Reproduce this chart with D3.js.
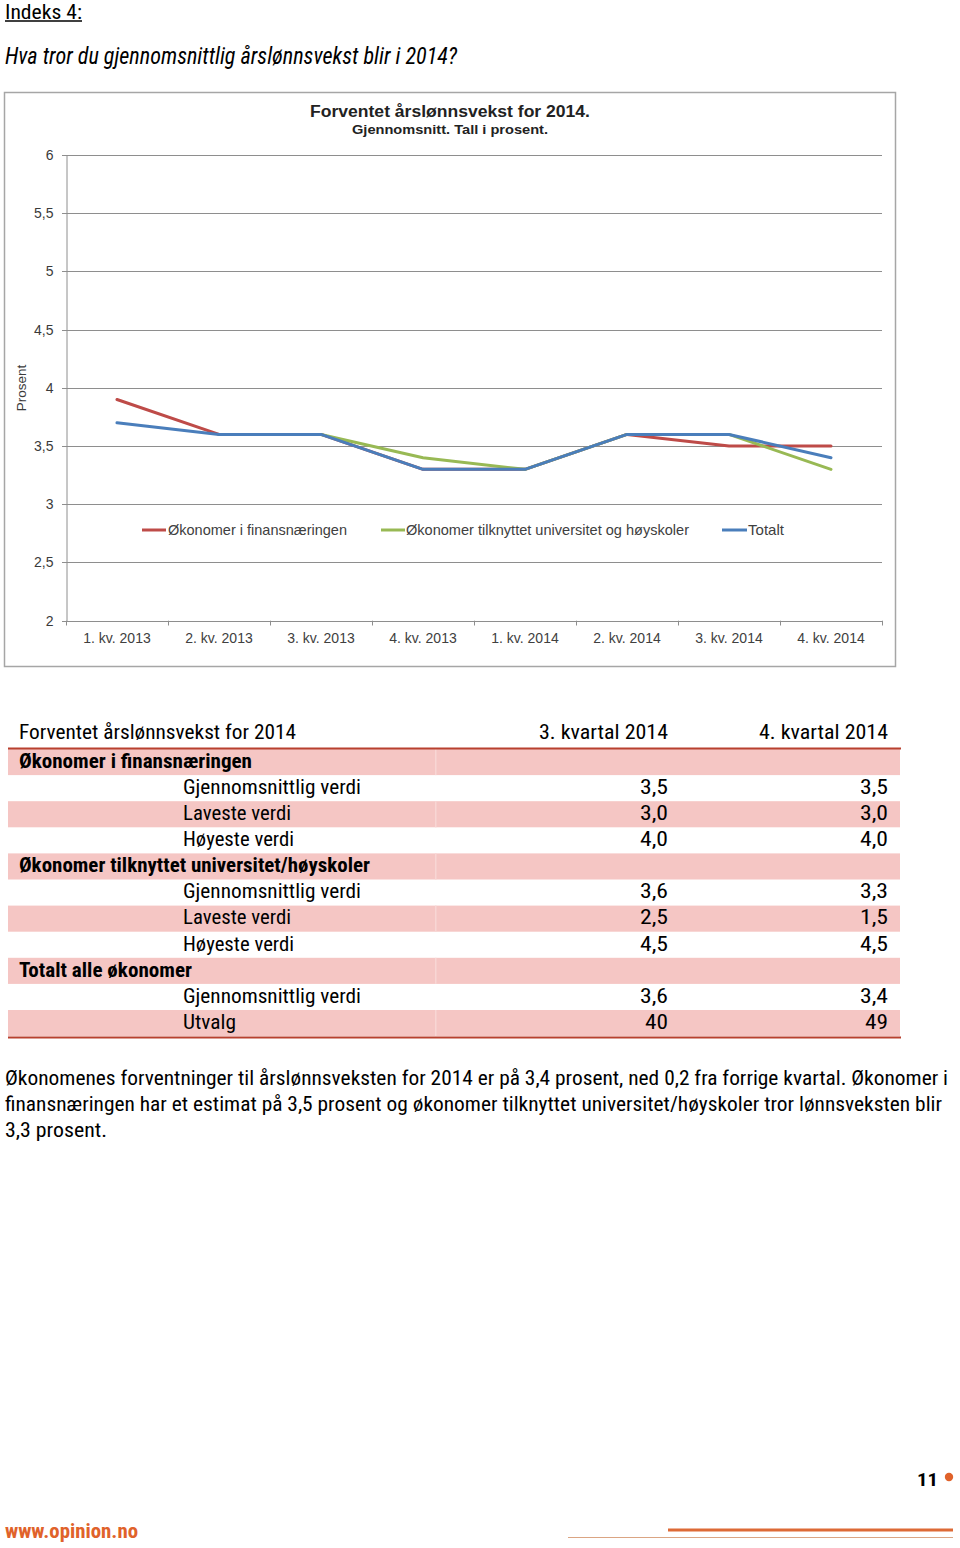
<!DOCTYPE html>
<html>
<head>
<meta charset="utf-8">
<script src="https://cdn.jsdelivr.net/npm/d3@7"></script>
<style>
  html, body { margin: 0; padding: 0; background: #fff; }
  svg { display: block; }
</style>
</head>
<body>
<svg id="page" width="960" height="1548"></svg>
<script>
// ---------- DATA ----------
const categories = ["1. kv. 2013", "2. kv. 2013", "3. kv. 2013", "4. kv. 2013",
                    "1. kv. 2014", "2. kv. 2014", "3. kv. 2014", "4. kv. 2014"];
const finans  = [3.9, 3.6, 3.6, 3.3, 3.3, 3.6, 3.5, 3.5];
const univ    = [null, 3.6, 3.6, 3.4, 3.3, 3.6, 3.6, 3.3];
const totalt  = [3.7, 3.6, 3.6, 3.3, 3.3, 3.6, 3.6, 3.4];
const yTicks  = [2, 2.5, 3, 3.5, 4, 4.5, 5, 5.5, 6];
const seriesNames = ["Økonomer i finansnæringen", "Økonomer tilknyttet universitet og høyskoler", "Totalt"];

const tableHeader = ["Forventet årslønnsvekst for 2014", "3. kvartal 2014", "4. kvartal 2014"];
const tableLabels = ["Økonomer i finansnæringen", "Gjennomsnittlig verdi", "Laveste verdi", "Høyeste verdi",
                     "Økonomer tilknyttet universitet/høyskoler", "Gjennomsnittlig verdi", "Laveste verdi", "Høyeste verdi",
                     "Totalt alle økonomer", "Gjennomsnittlig verdi", "Utvalg"];
const tableIsGroup = [true, false, false, false, true, false, false, false, true, false, false];
const tableQ3 = ["", "3,5", "3,0", "4,0", "", "3,6", "2,5", "4,5", "", "3,6", "40"];
const tableQ4 = ["", "3,5", "3,0", "4,0", "", "3,3", "1,5", "4,5", "", "3,4", "49"];

const paragraph = [
  "Økonomenes forventninger til årslønnsveksten for 2014 er på 3,4 prosent, ned 0,2 fra forrige kvartal. Økonomer i",
  "finansnæringen har et estimat på 3,5 prosent og økonomer tilknyttet universitet/høyskoler tror lønnsveksten blir",
  "3,3 prosent."
];

// ---------- STYLE ----------
const NARROW = "'Liberation Sans Narrow','Roboto Condensed','DejaVu Sans Condensed',sans-serif";
const ARIAL = "'Liberation Sans', Arial, sans-serif";
const colors = ["#BE4B48", "#98B954", "#4A7EBB"];

const svg = d3.select("#page");

function txt(g, s, x, y, o) {
  o = o || {};
  const t = g.append("text").attr("x", x).attr("y", y).text(s)
    .attr("font-family", o.family || NARROW)
    .attr("font-size", o.size || 20)
    .attr("font-weight", o.weight || "normal")
    .attr("fill", o.fill || "#000");
  if (o.style) t.attr("font-style", o.style);
  if (o.len) t.attr("textLength", o.len).attr("lengthAdjust", "spacingAndGlyphs");
  if (o.anchor) t.attr("text-anchor", o.anchor);
  return t;
}

// ---------- PAGE HEADER ----------
txt(svg, "Indeks 4:", 5, 18.5, {size: 21, len: 77});
svg.append("line").attr("x1", 5).attr("x2", 82).attr("y1", 21).attr("y2", 21)
  .attr("stroke", "#000").attr("stroke-width", 1.5);
txt(svg, "Hva tror du gjennomsnittlig årslønnsvekst blir i 2014?", 5, 64, {size: 24, style: "italic", len: 452});

// ---------- CHART ----------
svg.append("rect").attr("x", 4.5).attr("y", 92.5).attr("width", 891).attr("height", 574)
  .attr("fill", "#fff").attr("stroke", "#a6a6a6").attr("stroke-width", 1.5);

const x = d3.scaleBand().domain(categories).range([66, 882]);
const y = d3.scaleLinear().domain([2, 6]).range([620.7, 155]);

// title
txt(svg, "Forventet årslønnsvekst for 2014.", 450, 117, {family: ARIAL, size: 16, weight: "bold", anchor: "middle", len: 280, fill: "#222"});
txt(svg, "Gjennomsnitt. Tall i prosent.", 450, 134, {family: ARIAL, size: 13, weight: "bold", anchor: "middle", len: 196, fill: "#222"});

// gridlines
svg.append("g").selectAll("line").data(yTicks).join("line")
  .attr("x1", 62).attr("x2", 882)
  .attr("y1", d => Math.round(y(d)) + 0.5).attr("y2", d => Math.round(y(d)) + 0.5)
  .attr("stroke", "#8e8e8e").attr("stroke-width", 1);

// y axis
const yAxis = svg.append("g").attr("transform", "translate(66.5,0)")
  .call(d3.axisLeft(y).tickValues(yTicks).tickSize(0).tickPadding(13)
        .tickFormat(d => String(d).replace(".", ",")));
yAxis.select(".domain").attr("stroke", "#8e8e8e");
yAxis.selectAll("text").attr("font-family", ARIAL).attr("font-size", 14).attr("fill", "#3a3a3a");

// x axis
const xAxis = svg.append("g").attr("transform", "translate(0,620.7)")
  .call(d3.axisBottom(x).tickSize(0).tickPadding(12));
xAxis.select(".domain").remove();
xAxis.selectAll("text").attr("font-family", ARIAL).attr("font-size", 14).attr("fill", "#404040");
const bounds = categories.map(c => x(c)).concat([x.range()[1]]);
svg.append("g").selectAll("line").data(bounds).join("line")
  .attr("x1", d => Math.round(d) + 0.5).attr("x2", d => Math.round(d) + 0.5)
  .attr("y1", 620.7).attr("y2", 625.5)
  .attr("stroke", "#8e8e8e").attr("stroke-width", 1);

// y label
txt(svg, "Prosent", 0, 0, {family: ARIAL, size: 13.5, anchor: "middle", fill: "#3a3a3a"})
  .attr("transform", "translate(26,388) rotate(-90)");

// lines
const line = d3.line()
  .defined(d => d != null)
  .x((d, i) => x(categories[i]) + x.bandwidth() / 2)
  .y(d => y(d));
[finans, univ, totalt].forEach((s, i) => {
  svg.append("path").datum(s).attr("d", line)
    .attr("fill", "none").attr("stroke", colors[i]).attr("stroke-width", 3)
    .attr("stroke-linejoin", "round").attr("stroke-linecap", "round");
});

// legend
const legendItems = [
  {x1: 142, x2: 166, tx: 168, len: 179},
  {x1: 381, x2: 405, tx: 406, len: 283},
  {x1: 722, x2: 747, tx: 748, len: 36}
];
legendItems.forEach((L, i) => {
  svg.append("line").attr("x1", L.x1).attr("x2", L.x2).attr("y1", 530).attr("y2", 530)
    .attr("stroke", colors[i]).attr("stroke-width", 3);
  txt(svg, seriesNames[i], L.tx, 535, {family: ARIAL, size: 14.5, fill: "#404040", len: L.len});
});

// ---------- TABLE ----------
const T = svg.append("g");
const rowTop = 749, rowH = 26.1;
// header
txt(T, tableHeader[0], 19, 739, {size: 20, len: 277});
txt(T, tableHeader[1], 539, 739, {size: 20, len: 129});
txt(T, tableHeader[2], 759, 739, {size: 20, len: 129});

tableLabels.forEach((lab, i) => {
  const top = rowTop + i * rowH;
  if (i % 2 === 0) {
    T.append("rect").attr("x", 8).attr("y", top).attr("width", 892).attr("height", rowH)
      .attr("fill", "#f5c6c4");
    T.append("rect").attr("x", 435).attr("y", top).attr("width", 1.5).attr("height", rowH)
      .attr("fill", "#f8d6d4");
  }
});
T.append("line").attr("x1", 8).attr("x2", 901).attr("y1", 748.5).attr("y2", 748.5)
  .attr("stroke", "#b8402f").attr("stroke-width", 2);
T.append("line").attr("x1", 8).attr("x2", 901).attr("y1", rowTop + 11 * rowH + 1.5).attr("y2", rowTop + 11 * rowH + 1.5)
  .attr("stroke", "#b8402f").attr("stroke-width", 2);

const labLens = {
  "Økonomer i finansnæringen": 233,
  "Økonomer tilknyttet universitet/høyskoler": 351,
  "Totalt alle økonomer": 173,
  "Gjennomsnittlig verdi": 178,
  "Laveste verdi": 108,
  "Høyeste verdi": 111,
  "Utvalg": 53
};
function valText(s, right, base) {
  const w = s.length === 3 ? 28 : 23;
  txt(T, s, right - w, base, {size: 20, len: w});
}
tableLabels.forEach((lab, i) => {
  const base = rowTop + i * rowH + 18.8;
  if (tableIsGroup[i]) {
    txt(T, lab, 19, base, {size: 21, weight: "bold", len: labLens[lab]});
  } else {
    txt(T, lab, 183, base, {size: 20, len: labLens[lab]});
  }
  if (tableQ3[i]) valText(tableQ3[i], 668, base);
  if (tableQ4[i]) valText(tableQ4[i], 888, base);
});

// ---------- PARAGRAPH ----------
const pLens = [943, 937, 102];
paragraph.forEach((l, i) => {
  txt(svg, l, 5, 1085 + i * 26, {size: 20, len: pLens[i]});
});

// ---------- FOOTER ----------
txt(svg, "11", 917, 1486, {size: 19, weight: "bold", len: 21});
svg.append("circle").attr("cx", 949).attr("cy", 1477).attr("r", 4.2).attr("fill", "#e0622a");
txt(svg, "www.opinion.no", 5, 1538, {size: 20, weight: "bold", fill: "#e0622a", len: 133});
svg.append("line").attr("x1", 668).attr("x2", 953).attr("y1", 1530).attr("y2", 1530)
  .attr("stroke", "#dd6a36").attr("stroke-width", 3.2);
svg.append("line").attr("x1", 568).attr("x2", 953).attr("y1", 1537.5).attr("y2", 1537.5)
  .attr("stroke", "#dba583").attr("stroke-width", 1);
</script>
</body>
</html>
